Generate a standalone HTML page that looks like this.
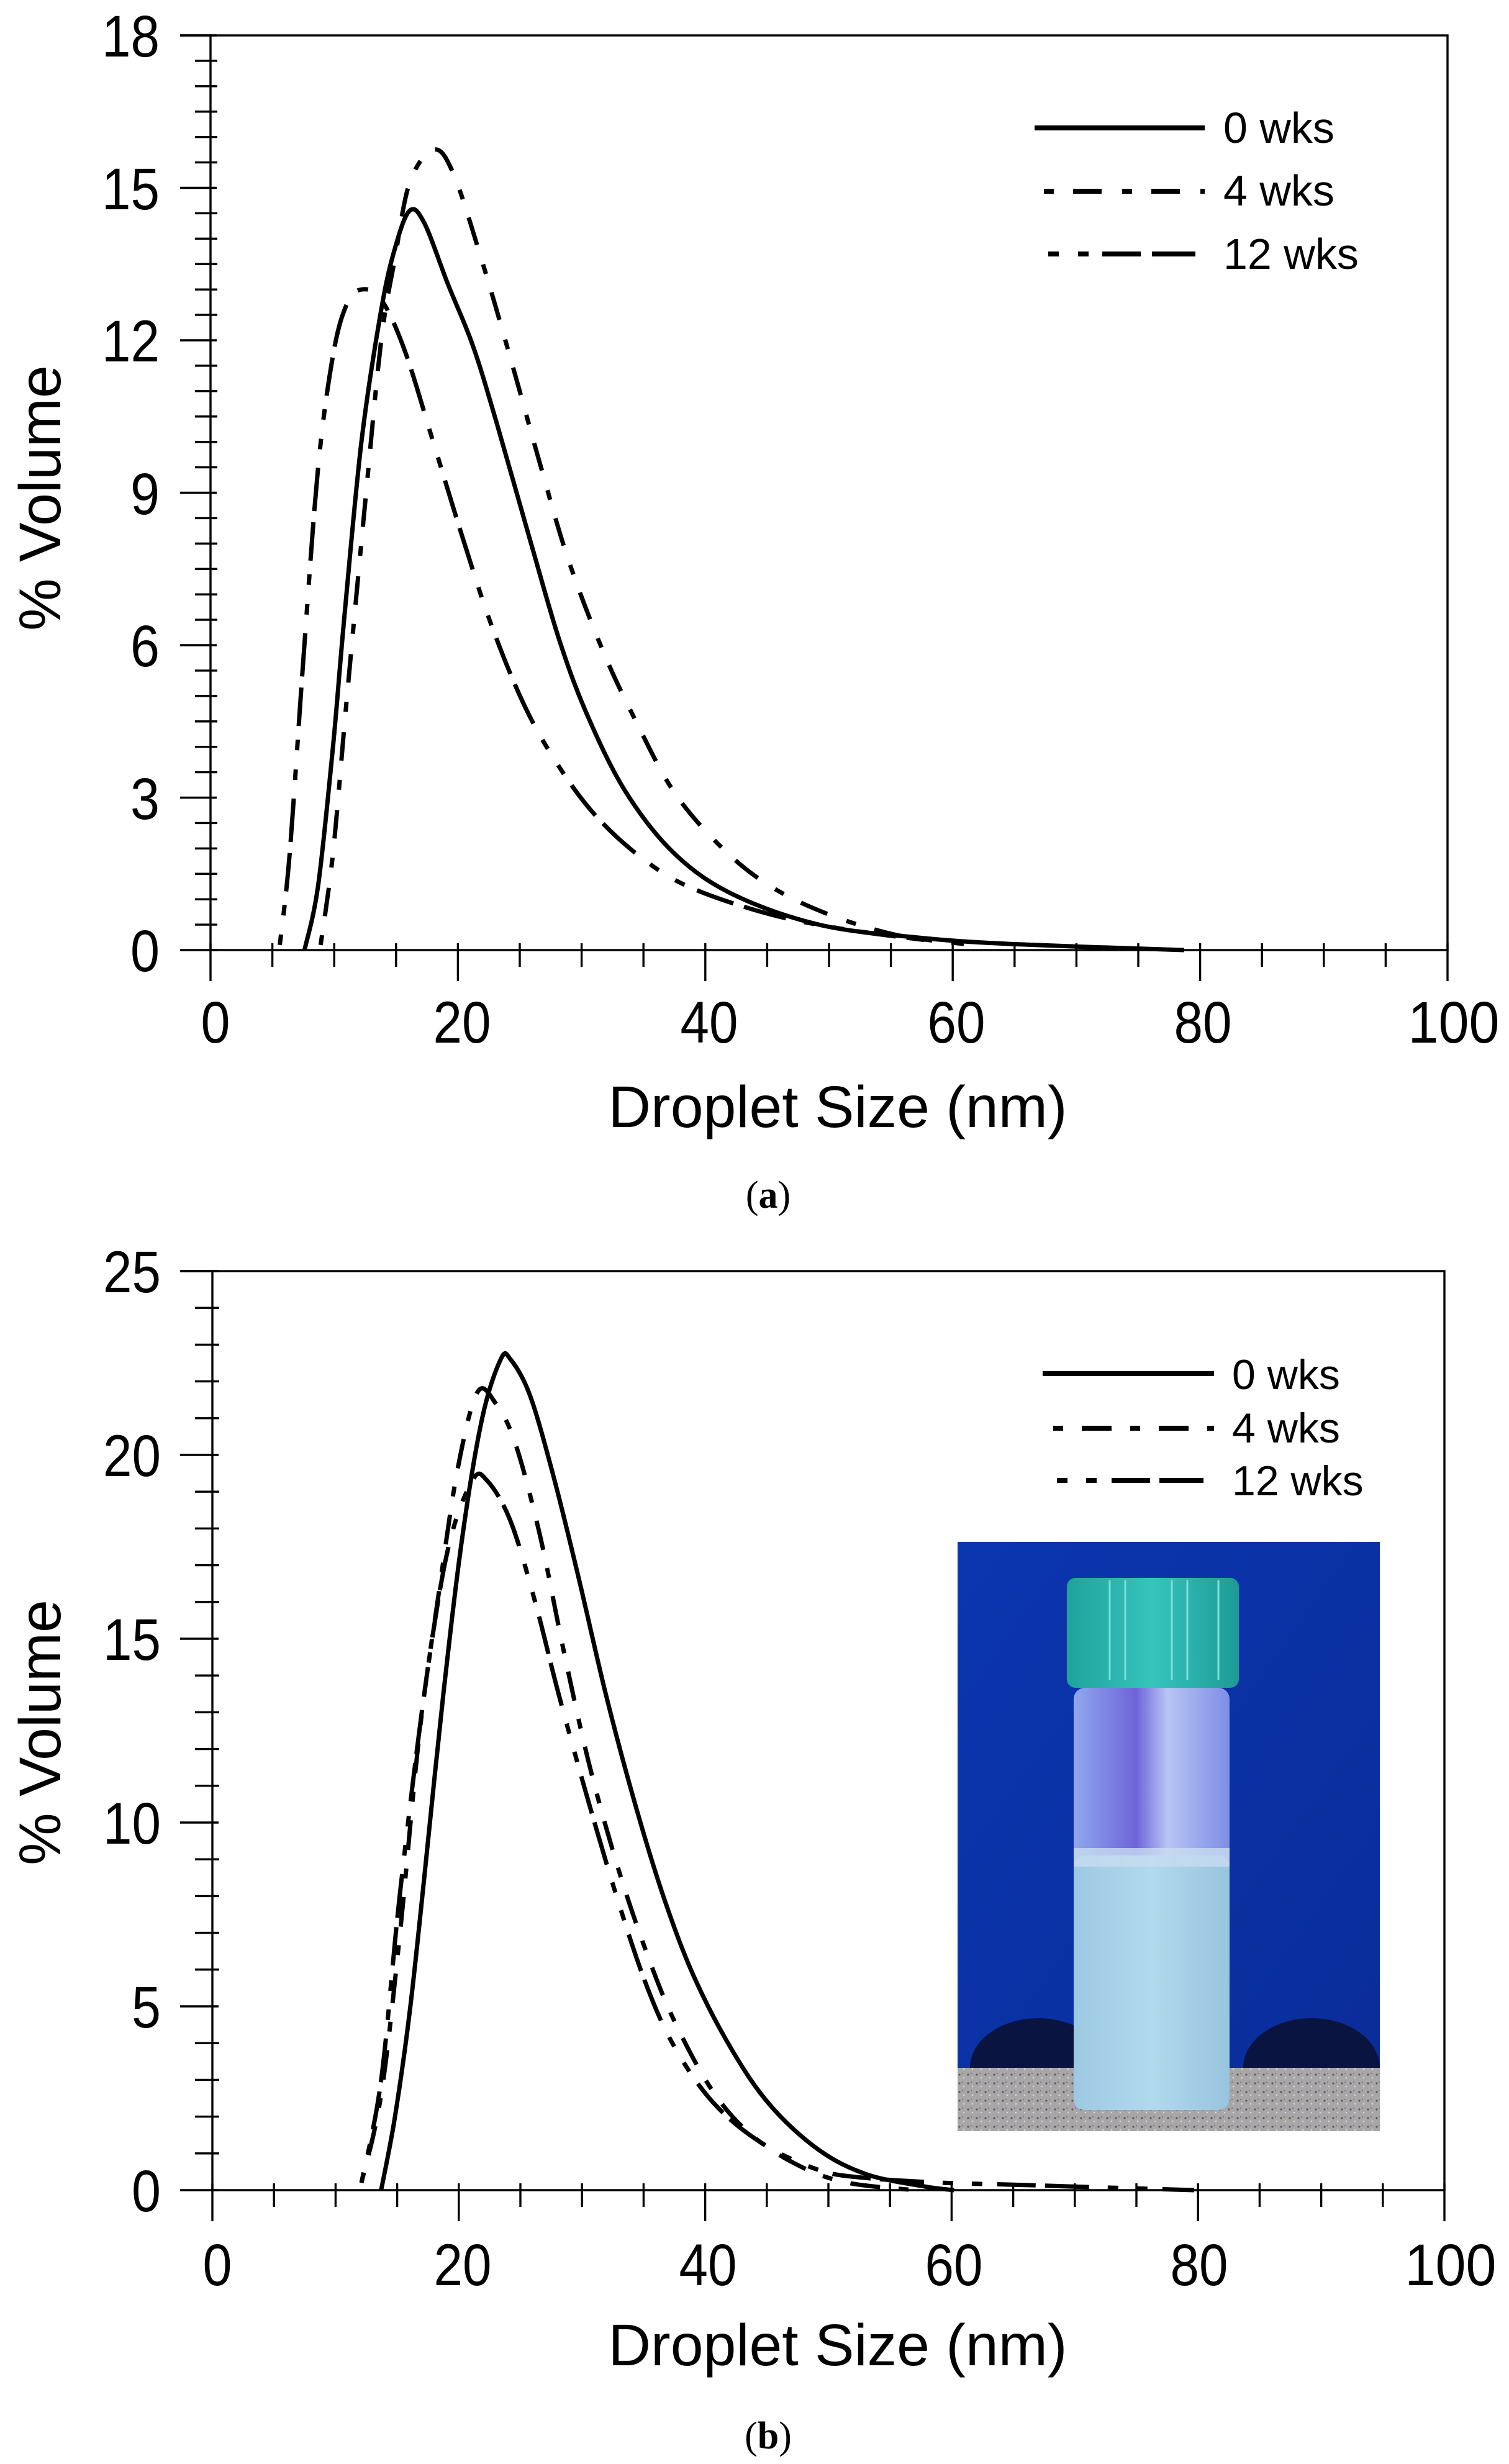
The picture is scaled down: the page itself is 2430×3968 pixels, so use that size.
<!DOCTYPE html>
<html><head><meta charset="utf-8"><style>
html,body{margin:0;padding:0;background:#fff;}
svg{display:block;}
text{font-family:"Liberation Sans",Arial,sans-serif;fill:#000;}
</style></head><body>
<svg id="s" xmlns="http://www.w3.org/2000/svg" width="2430" height="3968" viewBox="0 0 2430 3968">
<rect width="2430" height="3968" fill="#fff"/>
<g id="axA" stroke="#000" stroke-width="3.4" fill="none"></g>
<g id="axB" stroke="#000" stroke-width="3.4" fill="none"></g>

<g font-size="95" text-anchor="end">
<text x="257" y="1564" textLength="47" lengthAdjust="spacingAndGlyphs">0</text>
<text x="257" y="1319" textLength="47" lengthAdjust="spacingAndGlyphs">3</text>
<text x="257" y="1073" textLength="47" lengthAdjust="spacingAndGlyphs">6</text>
<text x="257" y="828" textLength="47" lengthAdjust="spacingAndGlyphs">9</text>
<text x="257" y="582" textLength="93" lengthAdjust="spacingAndGlyphs">12</text>
<text x="257" y="337" textLength="93" lengthAdjust="spacingAndGlyphs">15</text>
<text x="257" y="91" textLength="93" lengthAdjust="spacingAndGlyphs">18</text>
</g>
<g font-size="95" text-anchor="middle">
<text x="347" y="1679" textLength="47" lengthAdjust="spacingAndGlyphs">0</text>
<text x="744" y="1679" textLength="93" lengthAdjust="spacingAndGlyphs">20</text>
<text x="1142" y="1679" textLength="93" lengthAdjust="spacingAndGlyphs">40</text>
<text x="1540" y="1679" textLength="93" lengthAdjust="spacingAndGlyphs">60</text>
<text x="1937" y="1679" textLength="93" lengthAdjust="spacingAndGlyphs">80</text>
<text x="2341" y="1679" textLength="147" lengthAdjust="spacingAndGlyphs">100</text>
</g>
<text x="1349" y="1815" font-size="95" text-anchor="middle">Droplet Size (nm)</text>
<text transform="translate(97,802) rotate(-90)" font-size="95" text-anchor="middle">% Volume</text>
<g font-size="70">
<text x="1970" y="230">0 wks</text>
<text x="1970" y="331">4 wks</text>
<text x="1970" y="433">12 wks</text>
</g>
<g stroke="#000" stroke-width="8" fill="none">
<line x1="1666" y1="206" x2="1940" y2="206"/>
<line x1="1681" y1="308" x2="1940" y2="308" stroke-dasharray="16 31 46 33"/>
<line x1="1688" y1="409" x2="1925" y2="409" stroke-dasharray="17 31 17 22 62 18 70 30"/>
</g>
<text x="1237" y="1945" font-size="62" text-anchor="middle" style="font-family:'Liberation Serif',serif">(<tspan font-weight="bold">a</tspan>)</text>

<g transform="translate(1542,2483)">
<defs>
<linearGradient id="bg" x1="0" y1="0" x2="1" y2="1"><stop offset="0" stop-color="#0b36b0"/><stop offset="1" stop-color="#0a2c98"/></linearGradient>
<linearGradient id="cap" x1="0" y1="0" x2="1" y2="0"><stop offset="0" stop-color="#1fa39c"/><stop offset="0.5" stop-color="#35c4bd"/><stop offset="1" stop-color="#1e9a95"/></linearGradient>
<linearGradient id="liq" x1="0" y1="0" x2="1" y2="0"><stop offset="0" stop-color="#9cc9e2"/><stop offset="0.5" stop-color="#b2d9ee"/><stop offset="1" stop-color="#98c4de"/></linearGradient>
<linearGradient id="gl" x1="0" y1="0" x2="1" y2="0"><stop offset="0" stop-color="#8ea8ee"/><stop offset="0.4" stop-color="#6e64d8"/><stop offset="0.6" stop-color="#b8c4f4"/><stop offset="1" stop-color="#7e8ee6"/></linearGradient>
<pattern id="gran" width="14" height="14" patternUnits="userSpaceOnUse"><rect width="14" height="14" fill="#a9a6a8"/><circle cx="3" cy="4" r="1.6" fill="#555a66"/><circle cx="10" cy="9" r="1.3" fill="#d8d6d6"/><circle cx="8" cy="2" r="1" fill="#6a6e78"/></pattern>
</defs>
<rect width="680" height="949" fill="url(#bg)"/>
<path d="M20 847 A110 80 0 0 1 240 847 Z" fill="#0a1440"/>
<path d="M460 847 A110 80 0 0 1 680 847 Z" fill="#0a1440"/>
<rect y="847" width="680" height="102" fill="url(#gran)"/>
<rect x="187" y="235" width="251" height="680" rx="18" fill="url(#gl)"/>
<rect x="187" y="505" width="251" height="410" rx="18" fill="url(#liq)"/>
<rect x="187" y="493" width="251" height="30" fill="#c8dcf0" opacity="0.8"/>
<rect x="176" y="58" width="277" height="177" rx="14" fill="url(#cap)"/>
<g stroke="#7ee0d8" stroke-width="3"><line x1="245" y1="62" x2="245" y2="222"/><line x1="270" y1="62" x2="270" y2="222"/><line x1="345" y1="62" x2="345" y2="222"/><line x1="370" y1="62" x2="370" y2="222"/><line x1="420" y1="62" x2="420" y2="222"/></g>
</g>

<g font-size="95" text-anchor="end">
<text x="259" y="3561" textLength="47" lengthAdjust="spacingAndGlyphs">0</text>
<text x="259" y="3265" textLength="47" lengthAdjust="spacingAndGlyphs">5</text>
<text x="259" y="2969" textLength="93" lengthAdjust="spacingAndGlyphs">10</text>
<text x="259" y="2673" textLength="93" lengthAdjust="spacingAndGlyphs">15</text>
<text x="259" y="2377" textLength="93" lengthAdjust="spacingAndGlyphs">20</text>
<text x="259" y="2081" textLength="93" lengthAdjust="spacingAndGlyphs">25</text>
</g>
<g font-size="95" text-anchor="middle">
<text x="350" y="3680" textLength="47" lengthAdjust="spacingAndGlyphs">0</text>
<text x="745" y="3680" textLength="93" lengthAdjust="spacingAndGlyphs">20</text>
<text x="1140" y="3680" textLength="93" lengthAdjust="spacingAndGlyphs">40</text>
<text x="1536" y="3680" textLength="93" lengthAdjust="spacingAndGlyphs">60</text>
<text x="1931" y="3680" textLength="93" lengthAdjust="spacingAndGlyphs">80</text>
<text x="2336" y="3680" textLength="147" lengthAdjust="spacingAndGlyphs">100</text>
</g>
<text x="1349" y="3809" font-size="95" text-anchor="middle">Droplet Size (nm)</text>
<text transform="translate(97,2790) rotate(-90)" font-size="95" text-anchor="middle">% Volume</text>
<g font-size="68">
<text x="1984" y="2237">0 wks</text>
<text x="1984" y="2323">4 wks</text>
<text x="1984" y="2408">12 wks</text>
</g>
<g stroke="#000" stroke-width="8" fill="none">
<line x1="1679" y1="2212" x2="1955" y2="2212"/>
<line x1="1696" y1="2300" x2="1955" y2="2300" stroke-dasharray="16 30 48 30"/>
<line x1="1702" y1="2384" x2="1940" y2="2384" stroke-dasharray="17 30 17 24 62 15 71 30"/>
</g>
<text x="1237" y="3943" font-size="62" text-anchor="middle" style="font-family:'Liberation Serif',serif">(<tspan font-weight="bold">b</tspan>)</text>

<g id="curves" fill="none" stroke="#000" stroke-width="7" stroke-linejoin="round"></g>
</svg>
<script>
(function(){
var NS="http://www.w3.org/2000/svg";
function el(p,n,a){var e=document.createElementNS(NS,n);for(var k in a)e.setAttribute(k,a[k]);p.appendChild(e);return e;}
function axes(g,L,R,T,B,ymax,ymaj,ymin){
  el(g,"rect",{x:L,y:T,width:R-L,height:B-T});
  el(g,"line",{x1:290,y1:T,x2:L,y2:T});
  var py=(B-T)/ymax;
  for(var v=0;v<=ymax+1e-6;v+=ymin){
    var y=B-v*py; var maj=Math.abs(v/ymaj-Math.round(v/ymaj))<1e-6;
    if(maj) el(g,"line",{x1:290,y1:y,x2:L+10,y2:y}); else el(g,"line",{x1:314,y1:y,x2:L+11,y2:y});
  }
  var px=(R-L)/100;
  for(var x=0;x<=100;x+=5){
    var X=L+x*px;
    if(x%20==0) el(g,"line",{x1:X,y1:B-11,x2:X,y2:B+50}); else el(g,"line",{x1:X,y1:B-11,x2:X,y2:B+27});
  }
}
axes(document.getElementById("axA"),339,2331,57,1530,18,3,0.5);
axes(document.getElementById("axB"),342,2326,2047,3527,25,5,1);
function path(pts,L,R,B,py){
  var P=pts.map(function(p){return [L+p[0]*(R-L)/100,B-p[1]*py];});
  var d="M"+P[0][0]+" "+P[0][1];
  for(var i=0;i<P.length-1;i++){
    var p0=P[i-1]||P[i],p1=P[i],p2=P[i+1],p3=P[i+2]||p2;
    var c1=[p1[0]+(p2[0]-p0[0])/6,p1[1]+(p2[1]-p0[1])/6];
    var c2=[p2[0]-(p3[0]-p1[0])/6,p2[1]-(p3[1]-p1[1])/6];
    d+=" C"+c1[0].toFixed(1)+" "+c1[1].toFixed(1)+" "+c2[0].toFixed(1)+" "+c2[1].toFixed(1)+" "+p2[0].toFixed(1)+" "+p2[1].toFixed(1);
  }
  return d;
}
var g=document.getElementById("curves");
var pyA=(1530-57)/18, pyB=(3527-2047)/25;
var a0=[[7.6,0],[8.7,1.27],[9.9,4],[10.8,6.5],[12.2,10],[13.8,12.6],[14.9,13.8],[16.1,14.55],[17.3,14.3],[19.2,13.1],[21.2,11.9],[23.1,10.4],[25.8,8.1],[28.2,6.1],[30.5,4.6],[33.6,3.1],[37.5,1.9],[42.2,1.1],[49.2,0.5],[57,0.25],[64.7,0.12],[78.7,0]];
var a4=[[8.9,0.1],[9.9,1.9],[11,4.9],[12.5,8.8],[13.8,12],[14.9,13.6],[16.1,15.1],[18,15.75],[19.6,15.3],[21.9,13.6],[24.3,11.6],[26.6,9.6],[28.9,7.7],[31.7,5.9],[34.4,4.5],[37.5,3.1],[41.4,2.0],[45.3,1.25],[50,0.7],[55.4,0.3],[60.9,0.12]];
var a12=[[5.6,0.1],[6.4,1.9],[7.5,5.7],[8.7,9.5],[9.9,11.7],[11,12.7],[12.2,13],[13.8,12.8],[15.7,11.8],[18,10.0],[20.4,8.1],[22.7,6.4],[25.4,4.8],[28.2,3.6],[31.3,2.6],[35.2,1.75],[39.1,1.2],[45.3,0.7],[51.5,0.4],[57.7,0.2]];
var b0=[[13.7,0],[14.8,1.95],[16,4.8],[17.2,8.5],[18.75,13.5],[20.3,17.8],[21.9,21],[23.4,22.6],[24.2,22.6],[25.8,21.6],[27.7,19.4],[29.7,16.7],[32,13.4],[34.4,10.4],[36.7,7.9],[39.1,5.8],[42.2,3.8],[45.3,2.3],[49.2,1.1],[53.1,0.43],[57.8,0.1],[60.2,0]];
var b4=[[12.1,0.2],[13.7,2.6],[15.2,6.9],[16.8,12.4],[18.4,16.3],[19.9,19.6],[21.5,21.7],[23,21.4],[24.6,20.3],[26.6,17.8],[28.5,14.7],[30.5,11.7],[32.8,8.9],[35.2,6.5],[37.5,4.6],[40.6,2.7],[43.75,1.5],[47.7,0.65],[51.6,0.2],[57,0]];
var b12=[[12.1,0.2],[13.7,3],[15.2,8],[17.2,13.5],[19.1,17.4],[21.1,19.3],[22.3,19.3],[24.2,18.2],[26.2,16],[28.1,13.5],[30.5,10.6],[32.8,8],[35.2,5.6],[37.5,3.9],[40.6,2.4],[44.5,1.3],[49.2,0.55],[53.1,0.33],[59.4,0.2],[64.8,0.15],[72.7,0.07],[79.7,0]];
el(g,"path",{d:path(a0,339,2331,1530,pyA)});
el(g,"path",{d:path(a4,339,2331,1530,pyA),"stroke-dasharray":"16 31 46 33"});
el(g,"path",{d:path(a12,339,2331,1530,pyA),"stroke-dasharray":"17 31 17 22 62 18 70 30"});
el(g,"path",{d:path(b0,342,2326,3527,pyB)});
el(g,"path",{d:path(b4,342,2326,3527,pyB),"stroke-dasharray":"16 30 48 30"});
el(g,"path",{d:path(b12,342,2326,3527,pyB),"stroke-dasharray":"17 30 17 24 62 15 71 30"});
})();
</script>
</body></html>
